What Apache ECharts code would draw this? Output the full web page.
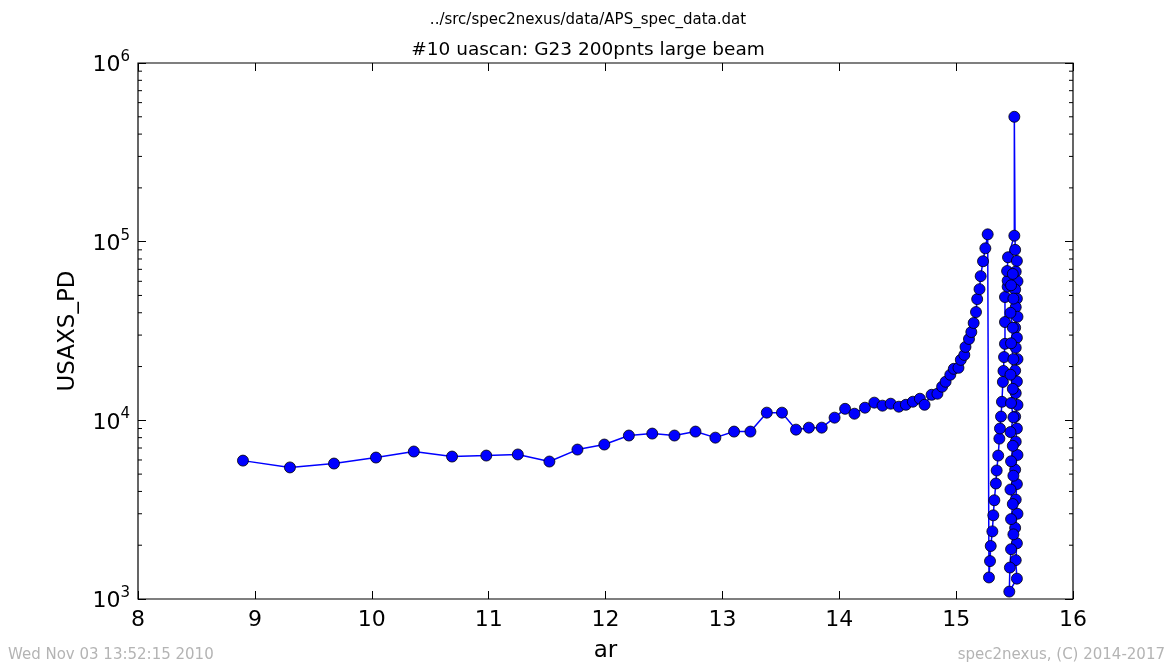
<!DOCTYPE html>
<html>
<head>
<meta charset="utf-8">
<script src="https://cdn.jsdelivr.net/npm/echarts@6/dist/echarts.min.js"></script>
<style>html,body{margin:0;padding:0;background:#fff}#c{width:1176px;height:668px}</style>
</head>
<body>
<div id="c"></div>
<script>
// ---- data ----
// approach towards the first peak
const arApproach = [8.898, 9.30, 9.677, 10.036, 10.36, 10.687, 10.98, 11.25, 11.52, 11.76, 11.99, 12.20, 12.40, 12.59, 12.77, 12.94, 13.10, 13.24, 13.38, 13.51, 13.63, 13.74, 13.85, 13.96, 14.05, 14.13, 14.22, 14.30, 14.37, 14.44, 14.51, 14.57, 14.63, 14.69, 14.73, 14.79, 14.84, 14.88, 14.91, 14.95, 14.98, 15.02, 15.04, 15.07, 15.08, 15.11, 15.13, 15.15, 15.17, 15.18, 15.20, 15.21, 15.23, 15.25, 15.27];
const pdApproach = [5950, 5450, 5730, 6190, 6690, 6270, 6350, 6440, 5880, 6860, 7320, 8220, 8430, 8220, 8650, 8000, 8650, 8650, 11040, 11040, 8870, 9100, 9100, 10350, 11600, 10890, 11770, 12560, 12080, 12390, 11920, 12220, 12710, 13210, 12220, 13900, 14090, 15420, 16440, 17990, 19420, 19680, 21800, 23230, 25760, 28530, 31200, 35060, 40370, 47690, 54200, 64100, 77700, 91800, 109900];
// second rising branch up to the main peak
const arRise = [15.281, 15.29, 15.296, 15.31, 15.318, 15.327, 15.34, 15.347, 15.36, 15.37, 15.375, 15.384, 15.392, 15.40, 15.405, 15.41, 15.418, 15.418, 15.418, 15.441, 15.441, 15.436, 15.444, 15.498, 15.498];
const pdRise = [1320, 1630, 1980, 2390, 2940, 3570, 4430, 5240, 6350, 7900, 9000, 10500, 12700, 16400, 18900, 22600, 26800, 35500, 49000, 56000, 60500, 68500, 81800, 108000, 500000];
// falling column after the main peak
const arFall = [15.505, 15.52, 15.51, 15.525, 15.505, 15.52, 15.51, 15.525, 15.505, 15.52, 15.51, 15.525, 15.505, 15.52, 15.51, 15.525, 15.505, 15.52, 15.51, 15.525, 15.505, 15.52, 15.51, 15.525, 15.505, 15.52, 15.51, 15.52];
const pdFall = [90000, 78000, 68000, 60000, 54000, 48000, 43000, 38000, 33000, 29000, 25500, 22000, 19000, 16500, 14200, 12200, 10500, 9000, 7600, 6400, 5300, 4400, 3600, 3000, 2500, 2050, 1650, 1300];
// last column
const arLast = [15.455, 15.46, 15.47, 15.49, 15.47, 15.485, 15.465, 15.49, 15.47, 15.485, 15.465, 15.49, 15.47, 15.485, 15.465, 15.49, 15.47, 15.485, 15.465, 15.49, 15.47, 15.485];
const pdLast = [1100, 1500, 1900, 2300, 2800, 3400, 4100, 4900, 5900, 7200, 8600, 10400, 12500, 15000, 18000, 22000, 27000, 33000, 40000, 48000, 57000, 66000];

const xTicks = [8, 9, 10, 11, 12, 13, 14, 15, 16];
const yTickExps = [3, 4, 5, 6];

const suptitle = '../src/spec2nexus/data/APS_spec_data.dat';
const title = '#10 uascan: G23 200pnts large beam';
const xName = 'ar';
const yName = 'USAXS_PD';
const footLeft = 'Wed Nov 03 13:52:15 2010';
const footRight = 'spec2nexus, (C) 2014-2017';

// ---- build ----
const arAll = arApproach.concat(arRise, arFall, arLast);
const pdAll = pdApproach.concat(pdRise, pdFall, pdLast);
const points = arAll.map((x, i) => [x, pdAll[i]]);

const FONT = "'DejaVu Sans', sans-serif";
const chart = echarts.init(document.getElementById('c'), null, {renderer: 'canvas'});

const yLabelFmt = v => {
  const e = Math.round(Math.log10(v));
  return yTickExps.indexOf(e) >= 0 ? '{b|10}{s|' + e + '}' : '';
};

const baseX = {
  type: 'value', min: xTicks[0], max: xTicks[xTicks.length - 1], interval: 1,
  splitLine: {show: false}, axisLine: {show: false},
  axisTick: {inside: true, length: 8, lineStyle: {color: '#000', width: 1}}
};
const baseY = {
  type: 'log', logBase: 10, min: Math.pow(10, yTickExps[0]), max: Math.pow(10, yTickExps[yTickExps.length - 1]),
  splitLine: {show: false}, axisLine: {show: false},
  axisTick: {inside: true, length: 8, lineStyle: {color: '#000', width: 1}}
};

chart.setOption({
  animation: false,
  backgroundColor: '#fff',
  textStyle: {fontFamily: FONT},
  title: [
    {text: suptitle, left: 'center', top: 8, textStyle: {fontSize: 15, fontWeight: 'normal', color: '#000', fontFamily: FONT}},
    {text: title, left: 'center', top: 36, textStyle: {fontSize: 18.5, fontWeight: 'normal', color: '#000', fontFamily: FONT}},
    {text: footLeft, left: 3, bottom: 0, textStyle: {fontSize: 15, fontWeight: 'normal', color: '#b4b4b4', fontFamily: FONT}},
    {text: footRight, right: 6, bottom: 0, textStyle: {fontSize: 15, fontWeight: 'normal', color: '#b4b4b4', fontFamily: FONT}}
  ],
  grid: {left: 138, right: 103, top: 63, bottom: 67, show: true, borderColor: '#000', borderWidth: 1.2, backgroundColor: '#fff'},
  xAxis: [
    Object.assign({}, baseX, {position: 'bottom', name: xName, nameLocation: 'middle', nameGap: 41,
      nameTextStyle: {fontSize: 23, color: '#000', fontFamily: FONT},
      axisLabel: {fontSize: 22, color: '#000', margin: 10, fontFamily: FONT}}),
    Object.assign({}, baseX, {position: 'top', axisLabel: {show: false}})
  ],
  yAxis: [
    Object.assign({}, baseY, {position: 'left', name: yName, nameLocation: 'middle', nameGap: 58, nameRotate: 90,
      nameTextStyle: {fontSize: 23, color: '#000', fontFamily: FONT},
      axisLabel: {margin: 8, formatter: yLabelFmt,
        rich: {b: {fontSize: 22, color: '#000', fontFamily: FONT, verticalAlign: 'bottom'},
               s: {fontSize: 15, color: '#000', fontFamily: FONT, verticalAlign: 'top', padding: [0, 0, 12, 0]}}}}),
    Object.assign({}, baseY, {position: 'right', axisLabel: {show: false}})
  ],
  series: [{
    type: 'line', xAxisIndex: 0, yAxisIndex: 0, data: points,
    symbol: 'circle', symbolSize: 11, showAllSymbol: true,
    lineStyle: {color: '#0000ff', width: 1.5},
    itemStyle: {color: '#0000ff', borderColor: '#000', borderWidth: 0.8},
    emphasis: {disabled: true}, silent: true, clip: false
  }]
});

// minor log ticks on left and right (positions from the library's scale)
const gx0 = chart.convertToPixel({xAxisIndex: 0}, xTicks[0]);
const gx1 = chart.convertToPixel({xAxisIndex: 0}, xTicks[xTicks.length - 1]);
const minor = [];
for (let e = yTickExps[0]; e < yTickExps[yTickExps.length - 1]; e++) {
  for (let k = 2; k <= 9; k++) {
    const py = chart.convertToPixel({yAxisIndex: 0}, k * Math.pow(10, e));
    minor.push({type: 'line', shape: {x1: gx0, y1: py, x2: gx0 + 4, y2: py}, style: {stroke: '#000', lineWidth: 1}, silent: true});
    minor.push({type: 'line', shape: {x1: gx1 - 4, y1: py, x2: gx1, y2: py}, style: {stroke: '#000', lineWidth: 1}, silent: true});
  }
}
chart.setOption({graphic: minor});
</script>
</body>
</html>
